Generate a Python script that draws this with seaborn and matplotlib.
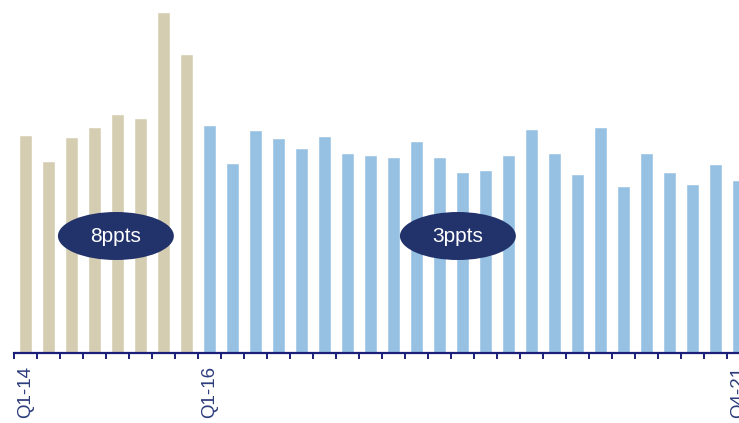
import matplotlib
matplotlib.use("Agg")
import matplotlib.pyplot as plt
from matplotlib.patches import Ellipse
import numpy as np
import pandas as pd
import seaborn as sns

# Quarterly values, Q1-14 .. Q4-21
quarters = [f"Q{q}-{y}" for y in range(14, 22) for q in range(1, 5)]
values = [21.8, 19.2, 21.6, 22.6, 23.9, 23.5, 34.1, 29.9,
          22.8, 19.0, 22.3, 21.5, 20.5, 21.7, 20.0, 19.8,
          19.6, 21.2, 19.6, 18.1, 18.3, 19.8, 22.4, 20.0,
          17.9, 22.6, 16.7, 20.0, 18.1, 16.9, 18.9, 17.3]
periods = ["Q1-14 to Q4-15"] * 8 + ["Q1-16 to Q4-21"] * 24
shown_labels = {"Q1-14": 0, "Q1-16": 8, "Q4-21": 31}
bubbles = [("8ppts", 3.93, 11.7), ("3ppts", 18.8, 11.7)]

tan = "#d5cdb2"
blue = "#97c1e3"
navy = "#22336b"
axis_navy = "#1c1f78"
label_navy = "#2c3c7c"

df = pd.DataFrame({"quarter": quarters, "value": values, "period": periods})

sns.set_theme(style="white")
plt.rcParams["font.family"] = ["Liberation Sans", "DejaVu Sans"]

fig = plt.figure(figsize=(7.39, 4.23), dpi=100)
ax = fig.add_axes([14 / 739, 70 / 423, 736 / 739, 353 / 423])

sns.barplot(data=df, x="quarter", y="value", hue="period", order=quarters,
            palette=[tan, blue], dodge=False, width=0.6, legend=False,
            ax=ax, saturation=1)

ax.set_xlim(-0.5, 31.5)
ax.set_ylim(0, 35.3)
ax.set_xlabel("")
ax.set_ylabel("")
ax.set_yticks([])

for s in ["top", "right", "left"]:
    ax.spines[s].set_visible(False)
ax.spines["bottom"].set_color(axis_navy)
ax.spines["bottom"].set_linewidth(1.6)

# boundary ticks between quarters
ax.set_xticks(np.arange(-0.5, 32, 1.0))
ax.set_xticklabels([])
ax.tick_params(axis="x", which="major", bottom=True, length=4, width=1.4,
               color=axis_navy)
ax.set_xticks(list(shown_labels.values()), minor=True)
ax.set_xticklabels(list(shown_labels.keys()), minor=True, rotation=90,
                   fontsize=13.5, color=label_navy, va="top")
ax.tick_params(axis="x", which="minor", bottom=True, length=0, pad=9)

for text, xc, yc in bubbles:
    ax.add_patch(Ellipse((xc, yc), 5.04, 4.8, facecolor=navy,
                         edgecolor="none", zorder=5))
    ax.text(xc, yc, text, ha="center", va="center", color="white",
            fontsize=15, zorder=6)

fig.savefig("out.png", dpi=100)
